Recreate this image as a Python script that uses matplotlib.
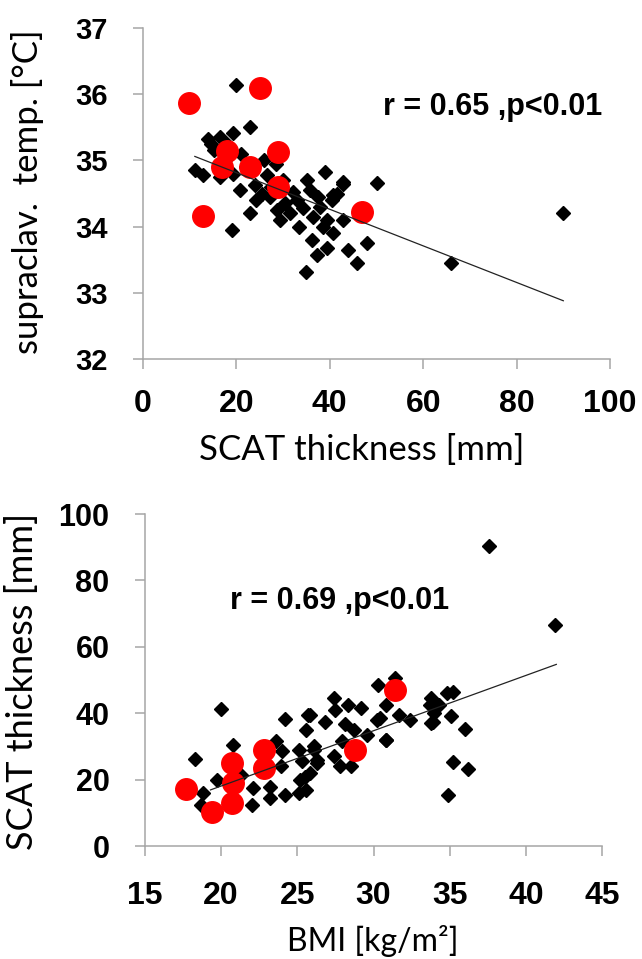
import numpy as np
import matplotlib.pyplot as plt

# ---- top panel: SCAT thickness vs supraclavicular temperature ----
scat_top = [19.9, 22.9, 14.0, 16.5, 19.3, 15.1, 11.1, 12.9, 16.5, 19.3, 20.8, 24.0, 26.5,
            24.3, 27.2, 29.3, 28.6, 32.2, 35.1, 39.0, 35.8, 42.9, 40.7, 37.9, 34.3, 36.5,
            39.3, 40.7, 42.9, 36.1, 37.2, 39.3, 19.0, 44.0, 47.9, 45.9, 35.0, 50.1, 42.9,
            41.5, 40.4, 66.0, 89.9, 17.5, 21.0, 18.0, 22.0, 25.5, 30.5, 31.5, 33.0, 27.5,
            28.5, 30.0, 38.5, 37.5, 33.5, 26.0, 14.5, 23.0]
temp_top = [36.14, 35.50, 35.33, 35.36, 35.41, 35.16, 34.86, 34.78, 34.75, 34.80, 34.55,
            34.63, 34.78, 34.40, 34.45, 34.10, 34.25, 34.53, 34.70, 34.83, 34.55, 34.68,
            34.48, 34.30, 34.28, 34.15, 34.10, 33.90, 34.10, 33.80, 33.57, 33.67, 33.95,
            33.65, 33.75, 33.45, 33.32, 34.66, 34.65, 34.50, 34.40, 33.45, 34.21, 35.00,
            35.10, 35.25, 34.90, 34.50, 34.35, 34.20, 34.40, 34.60, 34.95, 34.70, 34.00,
            34.45, 34.00, 35.00, 35.25, 34.20]
scat_top_red = [9.9, 25.1, 18.0, 16.9, 22.9, 28.9, 28.9, 12.9, 46.9]
temp_top_red = [35.87, 36.09, 35.14, 34.90, 34.90, 35.13, 34.60, 34.16, 34.22]
fit_top_x = [11.1, 90.0]
fit_top_y = [35.06, 32.88]

# ---- bottom panel: BMI vs SCAT thickness ----
bmi_bot = [20.0, 18.3, 20.8, 24.2, 25.7, 25.6, 23.6, 24.0, 25.1, 26.1, 25.3, 23.9, 23.2,
           24.2, 23.2, 22.0, 18.8, 18.7, 19.7, 21.3, 22.1, 25.2, 25.1, 25.8, 26.3, 31.4,
           30.3, 33.8, 34.8, 27.4, 28.3, 29.2, 30.8, 27.5, 25.8, 26.8, 28.1, 30.2, 31.7,
           32.4, 33.9, 34.3, 30.8, 29.6, 28.7, 27.9, 27.4, 27.8, 28.5, 26.1, 26.3, 25.5,
           25.6, 30.4, 37.6, 41.9, 33.7, 34.0, 33.8, 35.2, 35.1, 36.0, 35.2, 36.2, 34.9,
           30.8]
scat_bot = [41.4, 26.3, 30.5, 38.3, 39.6, 35.0, 31.5, 28.5, 29.0, 30.0, 25.5, 24.0, 17.9,
            15.4, 14.4, 12.4, 15.9, 12.4, 19.9, 21.5, 17.4, 19.9, 15.9, 22.0, 26.0, 50.7,
            48.6, 44.6, 46.1, 44.6, 42.6, 41.6, 42.6, 41.1, 39.6, 37.5, 36.6, 38.1, 39.6,
            38.1, 37.5, 42.6, 32.0, 33.5, 35.0, 31.5, 27.0, 24.0, 24.0, 29.0, 25.0, 20.9,
            16.9, 38.6, 90.4, 66.5, 42.6, 40.1, 37.1, 46.3, 39.3, 35.2, 25.2, 23.2, 15.4,
            32.0]
bmi_bot_red = [17.7, 19.4, 20.7, 20.75, 20.7, 22.8, 22.8, 28.8, 31.4]
scat_bot_red = [17.1, 10.2, 25.0, 19.0, 12.9, 29.0, 23.5, 29.0, 47.1]
fit_bot_x = [19.3, 42.0]
fit_bot_y = [16.9, 54.7]

top_yticks = [32, 33, 34, 35, 36, 37]
top_xticks = [0, 20, 40, 60, 80, 100]
bot_yticks = [0, 20, 40, 60, 80, 100]
bot_xticks = [15, 20, 25, 30, 35, 40, 45]

tick_font = ['Liberation Sans', 'DejaVu Sans']
label_font = ['Lato', 'DejaVu Sans']
spine_col = '#a6a6a6'

fig = plt.figure(figsize=(6.42, 9.59), dpi=100)
ax1 = fig.add_axes([143 / 642, 1 - 359 / 959, 467 / 642, 331 / 959])
ax2 = fig.add_axes([145 / 642, 1 - 846 / 959, 457 / 642, 332 / 959])


def style(ax):
    for s in ['top', 'right']:
        ax.spines[s].set_visible(False)
    for s in ['left', 'bottom']:
        ax.spines[s].set_color(spine_col)
        ax.spines[s].set_linewidth(1.1)
    ax.tick_params(direction='out', length=7.5, width=1.1, color=spine_col)


# top
ax1.plot(scat_top, temp_top, 'D', color='black', ms=6.8, zorder=2)
ax1.plot(scat_top_red, temp_top_red, 'o', color='#ff0000', ms=15.5, zorder=3)
ax1.plot(fit_top_x, fit_top_y, color='#222222', lw=0.9, zorder=4)
ax1.set_xlim(0, 100)
ax1.set_ylim(32, 37)
ax1.set_xticks(top_xticks)
ax1.set_yticks(top_yticks)
style(ax1)
ax1.tick_params(axis='y', pad=18)
ax1.tick_params(axis='x', pad=14)
for t in ax1.get_yticklabels():
    t.set_fontfamily(tick_font); t.set_fontweight('bold'); t.set_fontsize(21)
for t in ax1.get_xticklabels():
    t.set_fontfamily(tick_font); t.set_fontweight('bold'); t.set_fontsize(23)
ax1.text(51.4, 35.81, 'r = 0.65 ,p<0.01', family=tick_font, weight='bold',
         fontsize=22, ha='left', va='center')

# bottom
ax2.plot(bmi_bot, scat_bot, 'D', color='black', ms=6.8, zorder=2)
ax2.plot(bmi_bot_red, scat_bot_red, 'o', color='#ff0000', ms=15.5, zorder=3)
ax2.plot(fit_bot_x, fit_bot_y, color='#222222', lw=0.9, zorder=4)
ax2.set_xlim(15, 45)
ax2.set_ylim(0, 100)
ax2.set_xticks(bot_xticks)
ax2.set_yticks(bot_yticks)
style(ax2)
ax2.tick_params(axis='y', pad=18)
ax2.tick_params(axis='x', pad=18)
for t in ax2.get_yticklabels():
    t.set_fontfamily(tick_font); t.set_fontweight('bold'); t.set_fontsize(22)
for t in ax2.get_xticklabels():
    t.set_fontfamily(tick_font); t.set_fontweight('bold'); t.set_fontsize(23)
ax2.text(20.6, 73.7, 'r = 0.69 ,p<0.01', family=tick_font, weight='bold',
         fontsize=22, ha='left', va='center')

# axis titles
fig.text(28 / 642, 1 - 192 / 959, 'supraclav.  temp. [°C]', rotation=90,
         family=label_font, fontsize=25, ha='center', va='center')
fig.text(362 / 642, 1 - 450 / 959, 'SCAT thickness [mm]',
         family=label_font, fontsize=25, ha='center', va='center')
fig.text(22 / 642, 1 - 681 / 959, 'SCAT thickness [mm]', rotation=90,
         family=label_font, fontsize=26, ha='center', va='center')
fig.text(373 / 642, 1 - 941 / 959, 'BMI [kg/m²]',
         family=label_font, fontsize=23, ha='center', va='center')

fig.savefig('out.png', dpi=100)
